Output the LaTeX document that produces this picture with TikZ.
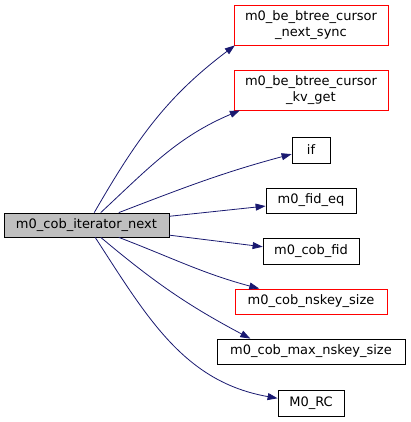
\documentclass[tikz,border=0pt]{standalone}
\usepackage{fontspec}
\setmainfont{DejaVu Sans}
\usetikzlibrary{arrows.meta}
\definecolor{nodeRoot}{RGB}{191,191,191}
\definecolor{nodeTrunc}{RGB}{255,0,0}
\definecolor{edgeCall}{RGB}{25,25,112}
\tikzset{
    fnnode/.style={
        draw=black, fill=white, line width=0.8pt,
        inner sep=0pt, align=center, minimum height=25pt,
        font=\fontsize{13}{16}\selectfont
    },
    truncnode/.style={fnnode, draw=nodeTrunc},
    rootnode/.style={fnnode, fill=nodeRoot},
    call/.style={-{Triangle[length=10pt,width=7pt]}, line width=0.8pt, draw=edgeCall}
}

\begin{document}
\begin{tikzpicture}[x=1pt, y=1pt]
      \useasboundingbox (0,0) rectangle (411,422);
      \node[rootnode, minimum width=165pt, minimum height=24pt] (main) at (86.5,197) {m0\_cob\_iterator\_next};
      \node[truncnode, minimum width=154pt, minimum height=40pt] (nextsync) at (311,397) {m0\_be\_btree\_cursor\\\_next\_sync};
      \node[truncnode, minimum width=154pt, minimum height=40pt] (kvget) at (311,332) {m0\_be\_btree\_cursor\\\_kv\_get};
      \node[fnnode, minimum width=38pt, minimum height=26pt] (if) at (311,272) {if};
      \node[fnnode, minimum width=90pt] (fideq) at (311,221.5) {m0\_fid\_eq};
      \node[fnnode, minimum width=96pt, minimum height=26pt] (cobfid) at (311,171) {m0\_cob\_fid};
      \node[truncnode, minimum width=152pt] (nskey) at (311,120.5) {m0\_cob\_nskey\_size};
      \node[fnnode, minimum width=188pt] (maxnskey) at (311,70.5) {m0\_cob\_max\_nskey\_size};
      \node[fnnode, minimum width=66pt, minimum height=26pt] (rc) at (311,19) {M0\_RC};
      \draw[call] (main.58) to[out=60, in=217] (nextsync.-165);
      \draw[call] (main.41) to[out=43, in=203] (kvget.-164);
      \draw[call] (main.21) to[out=21, in=195] (if.-168);
      \draw[call] (main.6) -- (fideq.-173);
      \draw[call] (main.-7) -- (cobfid.175);
      \draw[call] (main.-21.5) to[out=-21, in=165] (nskey.166);
      \draw[call] (main.-41.6) to[out=-40, in=152] (maxnskey.168);
      \draw[call] (main.-55) to[out=-57, in=170] (rc.172);
    \end{tikzpicture}
\end{document}
